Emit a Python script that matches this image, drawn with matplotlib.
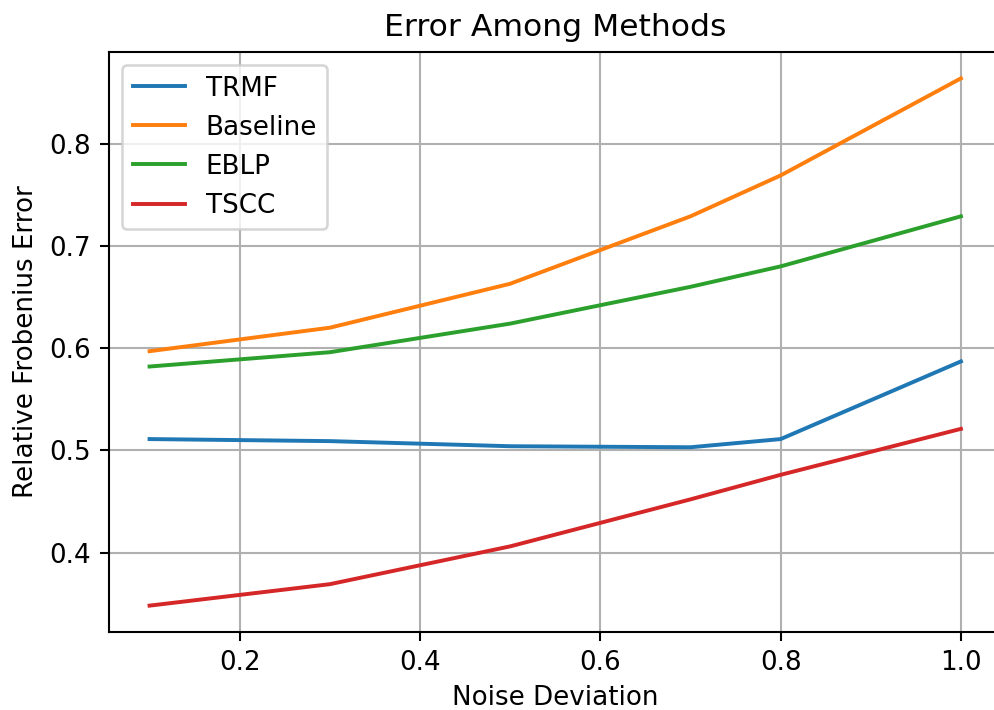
import matplotlib
matplotlib.use("Agg")
import matplotlib.pyplot as plt

# Noise deviation levels
noise = [0.1, 0.3, 0.5, 0.7, 0.8, 1.0]

trmf = [0.511, 0.509, 0.504, 0.503, 0.511, 0.587]
baseline = [0.597, 0.620, 0.663, 0.729, 0.769, 0.864]
eblp = [0.582, 0.596, 0.624, 0.660, 0.680, 0.729]
tscc = [0.348, 0.369, 0.406, 0.452, 0.476, 0.521]

DPI = 188
fig = plt.figure(figsize=(994 / DPI, 710 / DPI), dpi=DPI)
# axes runs slightly past the right edge (figure was cropped)
ax = fig.add_axes([109 / 994, 1 - 632 / 710, (1001.5 - 109) / 994, (632 - 52) / 710])

ax.plot(noise, trmf, label="TRMF")
ax.plot(noise, baseline, label="Baseline")
ax.plot(noise, eblp, label="EBLP")
ax.plot(noise, tscc, label="TSCC")

ax.set_title("Error Among Methods")
ax.set_xlabel("Noise Deviation", labelpad=3.5)
ax.set_ylabel("Relative Frobenius Error")
ax.spines["right"].set_visible(False)
ax.grid(True)
ax.legend(loc="upper left")

fig.savefig("out.png", dpi=DPI)
